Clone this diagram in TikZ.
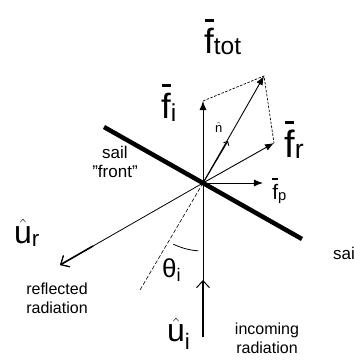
\documentclass[tikz,border=0pt]{standalone}
\usepackage{fontspec}
\setmainfont{Liberation Sans}
\usepackage{tikz}
\usetikzlibrary{arrows.meta, positioning}

\begin{document}
\begin{tikzpicture}[x=1pt, y=1pt,
    vec/.style={line width=.9pt, -{Latex[length=9pt,width=7pt]}},
    unitvec/.style={line width=1.6pt, -{Straight Barb[length=7pt,width=13pt,line width=1pt]}},
    guide/.style={line width=.8pt},
    helper/.style={line width=.7pt, dash pattern=on 2.5pt off 1.5pt},
    letter/.style={font=\fontsize{35}{40}\selectfont, anchor=base west, inner sep=0pt},
    note/.style={font=\fontsize{16}{19}\selectfont, align=center, inner sep=0pt}]
        \useasboundingbox (0,0) rectangle (354,360);

        \coordinate (O) at (203,177);
        \coordinate (sa) at (104,233);
        \coordinate (sb) at (302,121);
        \coordinate (fi) at (203,259);
        \coordinate (fr) at (274,217);
        \coordinate (ftot) at (264,284);
        \coordinate (fp) at (263,177);
        \coordinate (nh) at (228,219);
        \coordinate (ur) at (60,95);
        \coordinate (urs) at (93,114);
        \coordinate (nd) at (140,70);
        \coordinate (bot) at (203,23);
        \coordinate (uih) at (203,80);

        \draw[line width=4.5pt] (sa) -- (sb);
        \draw[guide] (O) -- (bot);
        \draw[guide, -{Straight Barb[length=7pt,width=13pt,line width=1pt]}] (O) -- (ur);
        \draw[unitvec] (urs) -- (ur);
        \draw[unitvec] (bot) -- (uih);
        \draw[line width=.6pt, dash pattern=on 4pt off 2pt] (O) -- (nd);
        \draw[vec] (O) -- (fi);
        \draw[vec] (O) -- (fr);
        \draw[vec] (O) -- (ftot);
        \draw[vec] (O) -- (fp);
        \draw[line width=.9pt, -{Straight Barb[length=3pt,width=6pt]}] (O) -- (nh);
        \draw[helper] (fi) -- (ftot) -- (fr);
        \draw[guide] ([shift={(244:68)}]O) arc[start angle=244, end angle=266, radius=68];

        \node[letter] (ftotl) at (204,313) {$\stackrel{\rule[4pt]{9pt}{3pt}}{\mathrm{f}}_{\mathrm{tot}}$};
        \node[letter] (fil) at (161,248) {$\stackrel{\rule[4pt]{9pt}{3pt}}{\mathrm{f}}_{\mathrm{i}}$};
        \node[letter, font=\fontsize{38}{42}\selectfont] (frl) at (284,210) {$\stackrel{\rule[4pt]{9pt}{3pt}}{\mathrm{f}}_{\mathrm{r}}$};
        \node[letter, font=\fontsize{21}{24}\selectfont] (fpl) at (272,163) {$\stackrel{\rule[2pt]{6pt}{2pt}}{\mathrm{f}}_{\mathrm{p}}$};
        \node[letter, font=\fontsize{13}{15}\selectfont] (nl) at (215,228) {$\hat{\mathrm{n}}$};
        \node[letter, font=\fontsize{32}{36}\selectfont] (url) at (14,117) {$\hat{\mathrm{u}}_{\mathrm{r}}$};
        \node[letter, font=\fontsize{32}{36}\selectfont] (uil) at (167,18) {$\hat{\mathrm{u}}_{\mathrm{i}}$};
        \node[letter, font=\fontsize{26}{30}\selectfont] (thl) at (162,83) {$\mbox{θ}_{\mathrm{i}}$};
        \node[note, font=\fontsize{17}{19}\selectfont] (front) at (115,198) {sail\\"front"};
        \node[letter, font=\fontsize{17}{20}\selectfont] (sail) at (333,100) {sail};
        \node[note] (refl) at (57,62) {reflected\\radiation};
        \node[note] (inc) at (267,22) {incoming\\radiation};
\end{tikzpicture}
\end{document}
